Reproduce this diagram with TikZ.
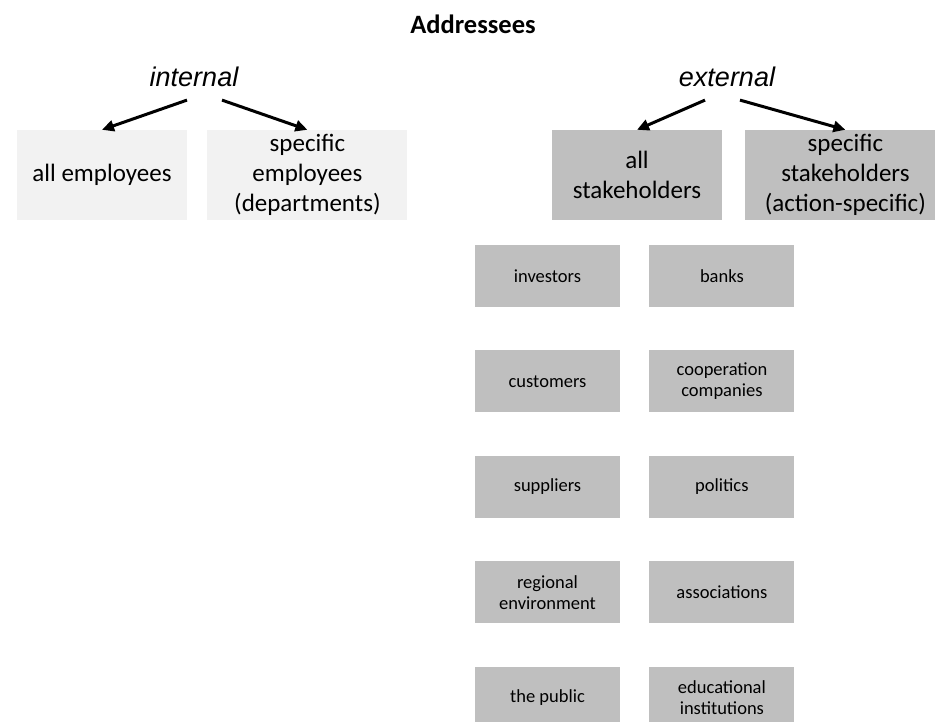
\documentclass[tikz,border=0pt]{standalone}
\usepackage{fontspec}
\setmainfont{Carlito}
\newfontfamily\arialfont{Liberation Sans}
\definecolor{boxlight}{HTML}{F2F2F2}
\definecolor{boxdark}{HTML}{BFBFBF}
\usetikzlibrary{
  arrows.meta,
  positioning,
}
\tikzset{
  >={Triangle[length=12pt,width=11pt]},
  groupbox/.style={rectangle,inner sep=0pt,minimum height=90pt,align=center,font=\fontsize{25}{30}\selectfont},
  intbox/.style={groupbox,fill=boxlight},
  extbox/.style={groupbox,fill=boxdark},
  stakebox/.style={rectangle,fill=boxdark,inner sep=0pt,minimum width=145pt,minimum height=62pt,align=center,font=\fontsize{18.5}{21}\selectfont},
  sidelabel/.style={inner sep=0pt,font=\arialfont\itshape\fontsize{27}{32}\selectfont},
  branch/.style={->,line width=3pt},
}

\begin{document}
\begin{tikzpicture}[x=1pt,y=-1pt,node distance=43pt and 29pt]

        \clip (0,0) rectangle (935,722);

        \node[inner sep=0pt,font=\bfseries\fontsize{26.5}{32}\selectfont]    (title) at (473,24)    {Addressees};

        \node[sidelabel]    (int) at (194,77)    {internal};
        \node[sidelabel]    (ext) at (727,77)    {external};

        \node[intbox,minimum width=170pt]    (allemp) at (102,175)    {all employees};
        \node[intbox,minimum width=200pt]    (specemp) [right=20pt of allemp]    {specific\\employees\\(departments)};
        \node[extbox,minimum width=170pt]    (allstake) at (637,175)    {all\\stakeholders};
        \node[extbox,minimum width=200pt]    (specstake) [right=23pt of allstake]    {specific\\stakeholders\\(action-specific)};

        \node[stakebox]    (investors) at (547.5,276)    {investors};
        \node[stakebox]    (banks) [right=of investors]    {banks};
        \node[stakebox]    (customers) [below=of investors]    {customers};
        \node[stakebox]    (coop) [right=of customers]    {cooperation\\companies};
        \node[stakebox]    (suppliers) [below=of customers]    {suppliers};
        \node[stakebox]    (politics) [right=of suppliers]    {politics};
        \node[stakebox]    (regional) [below=of suppliers]    {regional\\environment};
        \node[stakebox]    (assoc) [right=of regional]    {associations};
        \node[stakebox]    (public) [below=of regional]    {the public};
        \node[stakebox]    (edu) [right=of public]    {educational\\institutions};

        \draw[branch] ([xshift=-7pt,yshift=-13pt]int.south) -- (allemp.north);
        \draw[branch] ([xshift=28pt,yshift=-13pt]int.south) -- (specemp.north);
        \draw[branch] ([xshift=-22pt,yshift=-13pt]ext.south) -- (allstake.north);
        \draw[branch] ([xshift=13pt,yshift=-13pt]ext.south) -- (specstake.north);

    \end{tikzpicture}
\end{document}
